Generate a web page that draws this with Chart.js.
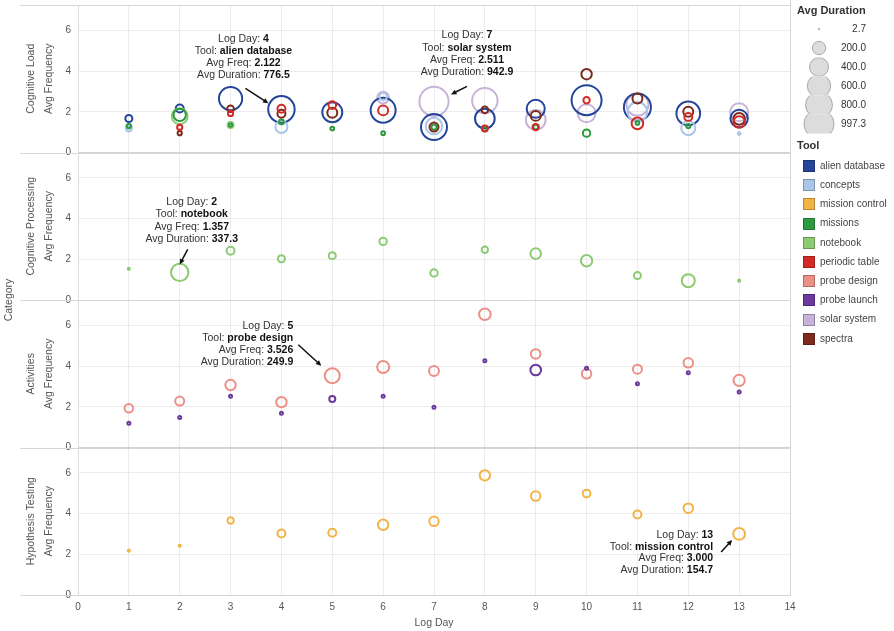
<!DOCTYPE html>
<html>
<head>
<meta charset="utf-8">
<script src="https://cdn.jsdelivr.net/npm/chart.js@4/dist/chart.umd.min.js"></script>
<style>
  html, body { margin: 0; padding: 0; background: #fff; }
  #wrap { width: 894px; height: 631px; position: relative; }
</style>
</head>
<body>
<div id="wrap"><canvas id="chart" width="894" height="631"></canvas></div>
<script>
// ---- data: one value per log day (null = tool not used that day) ----
const logDays = [1, 2, 3, 4, 5, 6, 7, 8, 9, 10, 11, 12, 13];
const categories = ['Cognitive Load', 'Cognitive Processing', 'Activities', 'Hypothesis Testing'];
const tools = ['alien database', 'concepts', 'mission control', 'missions', 'notebook',
               'periodic table', 'probe design', 'probe launch', 'solar system', 'spectra'];
const toolColors = ['#25459a', '#a9c5e8', '#f2b347', '#2d9a3e', '#8dcb72',
                    '#d42a26', '#ec8f87', '#6a3a9c', '#c7b2d8', '#7d2a1c'];
const sizeLegendValues = [2.7, 200.0, 400.0, 600.0, 800.0, 997.3];
const frequencyTicks = [0, 2, 4, 6];
const dayTicks = [0, 1, 2, 3, 4, 5, 6, 7, 8, 9, 10, 11, 12, 13, 14];

// Cognitive Load
const loadAlienFreq     = [1.67, 2.16, 2.65, 2.122, 1.98, 2.08, 1.25, 1.67, 2.15, 2.57, 2.23, 1.92, 1.67];
const loadAlienDur      = [55, 71, 600, 776.5, 443, 690, 750, 430, 360, 997.3, 810, 620, 335];
const loadConceptsFreq  = [1.2, null, null, 1.25, null, 2.75, 1.3, null, null, null, 2.0, 1.2, 0.93];
const loadConceptsDur   = [40, null, null, 160, null, 60, 300, null, null, null, 420, 220, 8];
const loadMissionsFreq  = [1.3, 1.85, 1.35, 1.5, 1.18, 0.95, 1.25, 1.15, 1.25, 0.95, 1.45, 1.3, null];
const loadMissionsDur   = [20, 170, 12, 25, 15, 15, 30, 20, 25, 60, 15, 20, null];
const loadNotebookFreq  = [null, 1.78, 1.35, null, null, null, null, null, null, null, null, null, null];
const loadNotebookDur   = [null, 280, 40, null, null, null, null, null, null, null, null, null, null];
const loadPeriodicFreq  = [null, 1.24, 1.92, 2.15, 2.33, 2.07, null, 1.18, 1.25, 2.57, 1.43, 1.75, 1.5];
const loadPeriodicDur   = [null, 30, 30, 70, 65, 110, null, 40, 45, 45, 150, 70, 150];
const loadSolarFreq     = [1.15, null, null, null, null, 2.7, 2.511, 2.55, 1.6, 1.93, 2.35, null, 1.98];
const loadSolarDur      = [25, null, null, null, null, 150, 942.9, 720, 430, 360, 540, null, 360];
const loadSpectraFreq   = [null, 0.95, 2.15, 1.9, 1.95, null, 1.25, 2.1, 1.8, 3.85, 2.65, 2.0, 1.65];
const loadSpectraDur    = [null, 20, 50, 70, 110, null, 90, 50, 110, 120, 110, 110, 150];

// Cognitive Processing
const procNotebookFreq  = [1.53, 1.357, 2.42, 2.03, 2.18, 2.88, 1.33, 2.47, 2.28, 1.93, 1.2, 0.95, 0.95];
const procNotebookDur   = [5, 337.3, 71, 55, 55, 60, 60, 45, 125, 143, 55, 187, 5];

// Activities
const actDesignFreq     = [1.93, 2.28, 3.07, 2.23, 3.526, 3.96, 3.76, 6.55, 4.6, 3.62, 3.85, 4.16, 3.3];
const actDesignDur      = [82, 90, 120, 120, 249.9, 160, 110, 150, 100, 100, 90, 100, 140];
const actLaunchFreq     = [1.19, 1.47, 2.52, 1.68, 2.38, 2.52, 1.98, 4.26, 3.81, 3.9, 3.13, 3.67, 2.73];
const actLaunchDur      = [10, 10, 10, 10, 40, 10, 10, 10, 125, 10, 10, 10, 10];

// Hypothesis Testing
const hypControlFreq    = [2.18, 2.42, 3.66, 3.02, 3.06, 3.45, 3.62, 5.88, 4.86, 4.99, 3.96, 4.27, 3.0];
const hypControlDur     = [5, 5, 45, 71, 71, 120, 100, 120, 100, 65, 71, 100, 154.7];

// ---- series wiring (first listed is drawn on top) ----
const series = [
  { axis: 'yLoad', tool: 'periodic table', freq: loadPeriodicFreq, dur: loadPeriodicDur },
  { axis: 'yLoad', tool: 'spectra',        freq: loadSpectraFreq,  dur: loadSpectraDur },
  { axis: 'yLoad', tool: 'missions',       freq: loadMissionsFreq, dur: loadMissionsDur },
  { axis: 'yLoad', tool: 'notebook',       freq: loadNotebookFreq, dur: loadNotebookDur },
  { axis: 'yLoad', tool: 'concepts',       freq: loadConceptsFreq, dur: loadConceptsDur },
  { axis: 'yLoad', tool: 'alien database', freq: loadAlienFreq,    dur: loadAlienDur },
  { axis: 'yLoad', tool: 'solar system',   freq: loadSolarFreq,    dur: loadSolarDur },
  { axis: 'yProc', tool: 'notebook',       freq: procNotebookFreq, dur: procNotebookDur },
  { axis: 'yAct',  tool: 'probe launch',   freq: actLaunchFreq,    dur: actLaunchDur },
  { axis: 'yAct',  tool: 'probe design',   freq: actDesignFreq,    dur: actDesignDur },
  { axis: 'yHyp',  tool: 'mission control',freq: hypControlFreq,   dur: hypControlDur }
];

const FONT = "'Liberation Sans', Arial, Helvetica, sans-serif";
const MAX_DURATION = 997.3;
const MAX_RADIUS = 15;
function radiusFor(duration) { return MAX_RADIUS * Math.sqrt(duration / MAX_DURATION); }
function colorOf(tool) { return toolColors[tools.indexOf(tool)]; }

const datasets = series.map(s => ({
  label: s.tool,
  yAxisID: s.axis,
  borderColor: colorOf(s.tool),
  backgroundColor: 'rgba(255,255,255,0)',
  borderWidth: 2,
  data: logDays.map((d, i) => s.freq[i] == null ? null : { x: d, y: s.freq[i], r: radiusFor(s.dur[i]) })
               .filter(p => p !== null)
}));

// callouts: label text comes from the same arrays as the marks
const callouts = [
  { axis: 'yLoad', tool: 'alien database', day: 4,  align: 'center', dx: -38, dy: -70, lh: 11.8, arrow: [-36, -21, -13, -6] },
  { axis: 'yLoad', tool: 'solar system',   day: 7,  align: 'center', dx: 33,  dy: -66, lh: 12.3, arrow: [33, -15, 17, -7] },
  { axis: 'yProc', tool: 'notebook',       day: 2,  align: 'center', dx: 12,  dy: -70, lh: 12.2, arrow: [8, -23, 0, -8] },
  { axis: 'yAct',  tool: 'probe design',   day: 5,  align: 'right',  dx: -39, dy: -50, lh: 12.2, arrow: [-34, -31, -11, -10] },
  { axis: 'yHyp',  tool: 'mission control',day: 13, align: 'right',  dx: -26, dy: 1.5, lh: 11.4, arrow: [-18, 18, -7, 6] }
];

function rowAxis() {
  return {
    type: 'linear', position: 'left', stack: 'rows', stackWeight: 1,
    min: 0, max: 7.25,
    afterBuildTicks: s => { s.ticks = frequencyTicks.map(v => ({ value: v })); },
    ticks: { padding: 7, color: '#555', font: { size: 10, family: FONT } },
    grid: { drawTicks: false, color: c => (c.tick && c.tick.value === 0) ? '#d3d3d3' : '#ececec', lineWidth: 1 },
    border: { display: true, color: '#dedede' },
    title: { display: true, text: 'Avg Frequency', color: '#555', font: { size: 10.5, family: FONT }, padding: { top: 3, bottom: 0 } },
    afterFit: s => { s.width = 38; s.paddingTop = 0; s.paddingBottom = 0; }
  };
}

const frame = {
  id: 'frame',
  beforeDraw(chart) {
    const ctx = chart.ctx;
    ctx.save();
    ctx.fillStyle = '#fff';
    ctx.fillRect(0, 0, chart.width, chart.height);
    ctx.restore();
  },
  beforeDatasetsDraw(chart) {
    const ctx = chart.ctx;
    const area = chart.chartArea;
    ctx.save();
    // row dividers spanning the header column
    const ids = ['yLoad', 'yProc', 'yAct', 'yHyp'];
    ctx.lineWidth = 1;
    ctx.strokeStyle = '#d6d6d6';
    ctx.beginPath();
    ctx.moveTo(20, Math.round(chart.scales.yLoad.top) + 0.5);
    ctx.lineTo(area.right, Math.round(chart.scales.yLoad.top) + 0.5);
    ids.forEach(id => {
      const yb = Math.round(chart.scales[id].getPixelForValue(0)) + 0.5;
      ctx.moveTo(20, yb);
      ctx.lineTo(area.right, yb);
    });
    ctx.stroke();
    // right edge
    ctx.beginPath();
    ctx.moveTo(Math.round(area.right) + 0.5, 0);
    ctx.lineTo(Math.round(area.right) + 0.5, area.bottom);
    ctx.stroke();

    // row headers + outer title
    ctx.fillStyle = '#555';
    ctx.font = '10.5px ' + FONT;
    ctx.textAlign = 'center';
    ctx.textBaseline = 'middle';
    ids.forEach((id, i) => {
      const sc = chart.scales[id];
      ctx.save();
      ctx.translate(31, (sc.top + sc.bottom) / 2);
      ctx.rotate(-Math.PI / 2);
      ctx.fillText(categories[i], 0, 0);
      ctx.restore();
    });
    ctx.save();
    ctx.translate(9, (area.top + area.bottom) / 2);
    ctx.rotate(-Math.PI / 2);
    ctx.fillText('Category', 0, 0);
    ctx.restore();
    ctx.restore();
  },
  afterDatasetsDraw(chart) {
    const ctx = chart.ctx;
    const xs = chart.scales.x;
    ctx.save();
    ctx.textBaseline = 'middle';
    callouts.forEach(c => {
      const s = series.find(q => q.axis === c.axis && q.tool === c.tool);
      const i = logDays.indexOf(c.day);
      const freq = s.freq[i], dur = s.dur[i];
      const px = xs.getPixelForValue(c.day);
      const py = chart.scales[c.axis].getPixelForValue(freq);
      const lines = [
        ['Log Day: ', String(c.day)],
        ['Tool: ', c.tool],
        ['Avg Freq: ', freq.toFixed(3)],
        ['Avg Duration: ', dur.toFixed(1)]
      ];
      const tx = px + c.dx;
      lines.forEach((ln, k) => {
        const ty = py + c.dy + k * c.lh;
        ctx.font = '10.5px ' + FONT;
        const w1 = ctx.measureText(ln[0]).width;
        ctx.font = 'bold 10.5px ' + FONT;
        const w2 = ctx.measureText(ln[1]).width;
        const total = w1 + w2;
        let x0 = c.align === 'center' ? tx - total / 2 : tx - total;
        ctx.textAlign = 'left';
        ctx.font = '10.5px ' + FONT;
        ctx.fillStyle = '#333';
        ctx.fillText(ln[0], x0, ty);
        ctx.font = 'bold 10.5px ' + FONT;
        ctx.fillStyle = '#111';
        ctx.fillText(ln[1], x0 + w1, ty);
      });
      // arrow
      const [ax0, ay0, ax1, ay1] = c.arrow;
      const x0 = px + ax0, y0 = py + ay0, x1 = px + ax1, y1 = py + ay1;
      const ang = Math.atan2(y1 - y0, x1 - x0);
      const head = 6;
      ctx.strokeStyle = '#111';
      ctx.fillStyle = '#111';
      ctx.lineWidth = 1.5;
      ctx.beginPath();
      ctx.moveTo(x0, y0);
      ctx.lineTo(x1 - Math.cos(ang) * head * 0.8, y1 - Math.sin(ang) * head * 0.8);
      ctx.stroke();
      ctx.beginPath();
      ctx.moveTo(x1, y1);
      ctx.lineTo(x1 - head * Math.cos(ang - 0.45), y1 - head * Math.sin(ang - 0.45));
      ctx.lineTo(x1 - head * Math.cos(ang + 0.45), y1 - head * Math.sin(ang + 0.45));
      ctx.closePath();
      ctx.fill();
    });
    ctx.restore();
  },
  afterDraw(chart) {
    const ctx = chart.ctx;
    ctx.save();
    ctx.textBaseline = 'middle';
    // size legend
    ctx.textAlign = 'left';
    ctx.fillStyle = '#333';
    ctx.font = 'bold 11px ' + FONT;
    ctx.fillText('Avg Duration', 797, 11);
    sizeLegendValues.forEach((v, i) => {
      const cy = 29 + i * 19;
      ctx.save();
      ctx.beginPath();
      ctx.rect(798, cy - 9.5, 44, 19);
      ctx.clip();
      ctx.beginPath();
      ctx.arc(819, cy, radiusFor(v), 0, Math.PI * 2);
      ctx.fillStyle = '#dcdcdc';
      ctx.fill();
      ctx.strokeStyle = '#a9a9a9';
      ctx.lineWidth = 1;
      ctx.stroke();
      ctx.restore();
      ctx.font = '10px ' + FONT;
      ctx.textAlign = 'right';
      ctx.fillStyle = '#333';
      ctx.fillText(v.toFixed(1), 866, cy);
    });
    // tool legend
    ctx.textAlign = 'left';
    ctx.font = 'bold 11px ' + FONT;
    ctx.fillStyle = '#333';
    ctx.fillText('Tool', 797, 146);
    tools.forEach((t, i) => {
      const cy = 166 + i * 19.2;
      ctx.fillStyle = toolColors[i];
      ctx.fillRect(803, Math.round(cy - 6), 12, 12);
      ctx.strokeStyle = 'rgba(0,0,0,0.25)';
      ctx.lineWidth = 1;
      ctx.strokeRect(803.5, Math.round(cy - 6) + 0.5, 11, 11);
      ctx.fillStyle = '#444';
      ctx.font = '10px ' + FONT;
      ctx.fillText(t, 820, cy);
    });
    ctx.restore();
  }
};

new Chart(document.getElementById('chart'), {
  type: 'bubble',
  data: { datasets },
  options: {
    responsive: false,
    animation: false,
    events: [],
    devicePixelRatio: 1,
    layout: { autoPadding: false, padding: { left: 40, right: 104, top: 5, bottom: 0 } },
    plugins: { legend: { display: false }, tooltip: { enabled: false } },
    scales: {
      x: {
        type: 'linear', position: 'bottom', min: 0, max: 14,
        afterBuildTicks: s => { s.ticks = dayTicks.map(v => ({ value: v })); },
        ticks: { padding: 6, color: '#555', font: { size: 10, family: FONT } },
        grid: { drawTicks: false, color: '#ececec' },
        border: { color: '#cfcfcf' },
        title: { display: true, text: 'Log Day', color: '#555', font: { size: 10.5, family: FONT }, padding: { top: 0, bottom: 2 } },
        afterFit: s => { s.height = 36; }
      },
      yHyp: rowAxis(),
      yAct: rowAxis(),
      yProc: rowAxis(),
      yLoad: rowAxis()
    }
  },
  plugins: [frame]
});
</script>
</body>
</html>
